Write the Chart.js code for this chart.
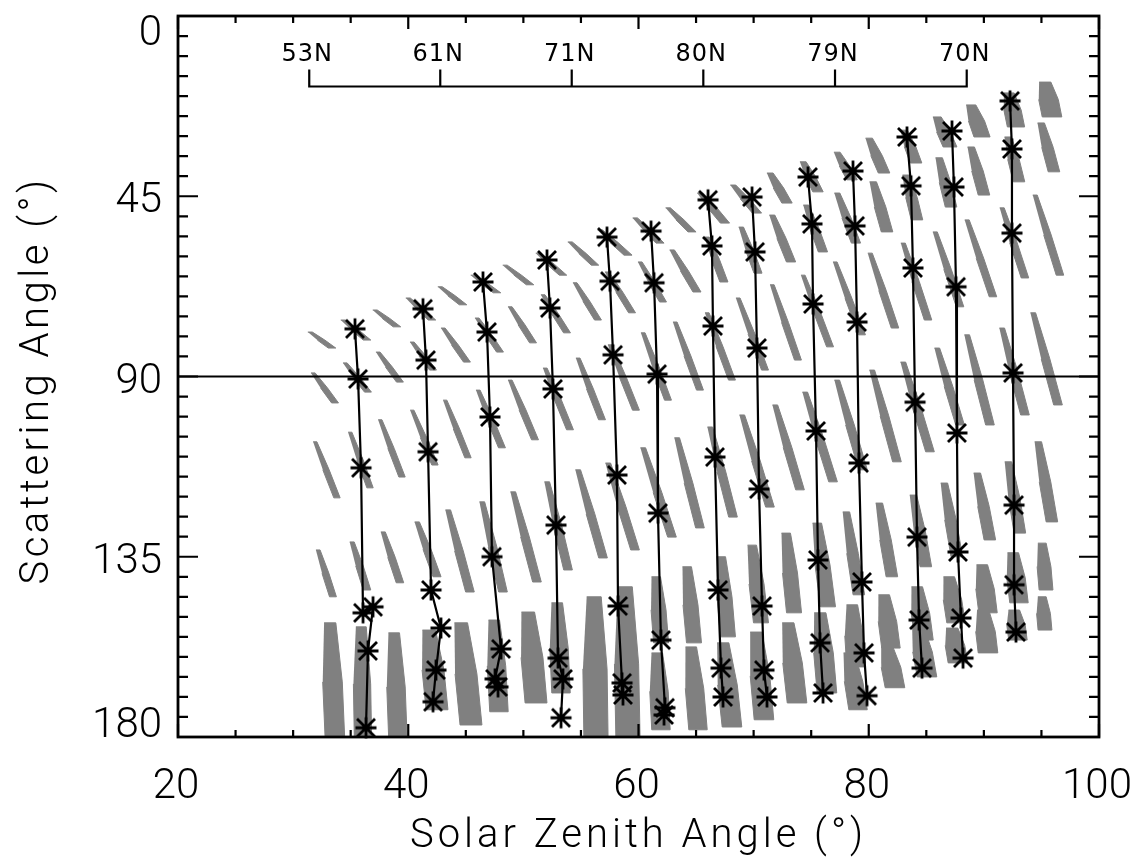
<!DOCTYPE html>
<html>
<head>
<meta charset="utf-8">
<script src="https://cdn.jsdelivr.net/npm/chart.js"></script>
<style>
  html, body { margin: 0; padding: 0; background: #fff; }
</style>
</head>
<body>
<canvas id="chart" width="1141" height="865"></canvas>
<script>
// axes
var xTicks = [20, 40, 60, 80, 100];
var yTicks = [0, 45, 90, 135, 180];
var refLine = [90];

// latitude scale on top
var latSza = [31.40, 42.78, 54.20, 65.63, 77.07, 88.51];
var latLabels = ['53N', '61N', '71N', '80N', '79N', '70N'];

// black tracks (solar zenith angle, scattering angle)
var trackSza = [
  [35.37, 35.64, 35.90, 36.07, 36.94, 36.50, 36.33],
  [41.28, 41.54, 41.72, 41.98, 42.84, 42.41, 42.15],
  [46.49, 46.84, 47.10, 47.27, 48.06, 47.54, 47.80],
  [52.05, 52.31, 52.57, 52.83, 53.01, 53.44, 53.27],
  [57.26, 57.52, 57.79, 58.13, 58.22, 58.57, 58.65],
  [61.09, 61.35, 61.61, 61.69, 61.95, 62.30, 62.22],
  [66.04, 66.38, 66.47, 66.64, 66.91, 67.17, 67.34],
  [69.86, 70.12, 70.29, 70.47, 70.73, 70.90, 71.16],
  [74.72, 75.07, 75.16, 75.42, 75.59, 75.77, 76.03],
  [78.63, 78.81, 78.98, 79.15, 79.41, 79.59, 79.85],
  [83.32, 83.67, 83.84, 84.02, 84.19, 84.37, 84.63],
  [87.23, 87.40, 87.58, 87.66, 87.75, 88.01, 88.19],
  [92.27, 92.44, 92.44, 92.53, 92.62, 92.62, 92.79]
];
var trackSca = [
  [78.1, 90.6, 112.8, 149.0, 147.5, 158.5, 177.7],
  [73.1, 85.9, 108.8, 143.3, 152.8, 163.3, 171.2],
  [66.4, 78.9, 100.1, 135.0, 158.0, 165.5, 167.5],
  [60.9, 72.9, 93.1, 127.1, 160.3, 165.5, 175.2],
  [55.2, 66.2, 84.6, 114.6, 147.3, 166.5, 169.5],
  [53.7, 66.6, 89.4, 124.1, 155.8, 172.7, 174.5],
  [45.9, 57.4, 77.4, 110.1, 143.3, 162.8, 170.0],
  [45.2, 58.9, 82.9, 118.1, 147.3, 163.3, 170.0],
  [40.2, 51.9, 71.9, 103.6, 135.8, 156.5, 169.0],
  [38.7, 52.4, 76.4, 111.6, 141.3, 159.0, 169.7],
  [30.2, 42.4, 62.9, 96.4, 130.1, 150.8, 162.8],
  [28.7, 42.7, 67.6, 104.1, 133.8, 150.3, 160.3],
  [21.2, 33.2, 54.2, 89.1, 122.1, 142.0, 153.8]
];

// grey swaths: [sza top, sca top, sza bottom, sca bottom, sza width]
var row0 = [
  [31.47, 78.9, 33.38, 82.9, 0.65], [34.33, 75.9, 36.42, 80.9, 0.65], [37.11, 73.4, 39.02, 77.6, 0.65],
  [39.98, 70.4, 42.06, 75.9, 0.65], [42.76, 67.6, 44.76, 72.1, 0.65], [45.62, 64.7, 47.71, 69.1, 0.65],
  [48.40, 62.2, 50.58, 67.1, 0.65], [51.27, 59.2, 53.44, 64.7, 0.65], [54.05, 56.4, 56.22, 62.2, 0.65],
  [56.66, 53.4, 59.09, 59.7, 0.7], [59.70, 50.4, 61.87, 56.7, 0.7], [62.56, 47.9, 64.65, 53.9, 0.7],
  [65.34, 44.2, 67.51, 51.7, 0.8], [68.21, 42.2, 70.29, 49.2, 0.8], [71.42, 39.2, 72.90, 46.7, 0.9],
  [74.29, 36.4, 75.59, 43.9, 0.9], [77.24, 34.0, 78.55, 40.9, 0.9], [80.02, 30.5, 81.33, 39.2, 1.0],
  [83.06, 28.5, 84.11, 36.7, 1.0], [85.93, 25.2, 87.06, 32.7, 1.2], [88.88, 22.2, 89.84, 30.2, 1.4],
  [92.18, 19.2, 92.79, 27.7, 1.5], [95.31, 16.5, 95.92, 25.2, 1.7]
];
var row1 = [
  [31.73, 89.1, 33.64, 96.6, 0.6], [34.51, 86.6, 36.50, 93.9, 0.6], [37.37, 83.9, 39.28, 91.4, 0.6],
  [40.33, 81.4, 42.15, 88.4, 0.6], [43.02, 77.9, 45.10, 86.4, 0.6], [45.97, 75.4, 47.97, 83.9, 0.6],
  [48.84, 72.6, 50.84, 81.6, 0.6], [51.70, 69.6, 53.79, 79.1, 0.6], [54.48, 66.6, 56.48, 75.9, 0.6],
  [57.26, 63.9, 59.44, 74.1, 0.6], [60.13, 61.4, 62.13, 71.4, 0.6], [62.91, 58.4, 65.08, 68.9, 0.7],
  [65.95, 55.2, 67.42, 66.4, 0.7], [68.91, 52.7, 70.38, 64.2, 0.7], [71.60, 49.7, 73.25, 61.4, 0.8],
  [74.55, 47.2, 76.02, 58.9, 0.8], [77.25, 44.2, 78.89, 56.7, 0.8], [80.37, 41.4, 81.59, 53.9, 1.0],
  [83.23, 39.7, 84.19, 50.9, 1.0], [86.10, 35.4, 87.15, 47.7, 1.0], [88.88, 32.7, 90.01, 44.7, 1.0],
  [92.09, 30.2, 93.05, 41.4, 1.0], [94.96, 26.7, 96.09, 38.9, 1.0]
];
var row2 = [
  [31.90, 106.3, 33.81, 120.3, 0.55], [34.94, 103.9, 36.68, 117.8, 0.55], [37.55, 100.8, 39.46, 115.1, 0.55],
  [40.33, 98.4, 42.32, 112.1, 0.55], [43.19, 95.9, 45.19, 110.3, 0.55], [46.06, 93.4, 48.14, 107.8, 0.6],
  [48.84, 90.9, 51.01, 105.8, 0.6], [51.88, 87.9, 54.05, 103.3, 0.6], [54.74, 85.4, 56.83, 100.8, 0.6],
  [57.52, 82.1, 59.78, 98.4, 0.6], [60.39, 79.1, 62.56, 95.9, 0.6], [63.17, 76.4, 65.34, 93.4, 0.6],
  [65.95, 74.1, 68.12, 90.9, 0.6], [68.64, 70.4, 70.99, 88.4, 0.6], [71.60, 67.1, 73.85, 85.9, 0.6],
  [74.29, 64.7, 76.64, 82.6, 0.6], [77.07, 61.4, 79.41, 79.6, 0.6], [80.11, 59.2, 82.28, 77.9, 0.65],
  [82.98, 56.7, 85.15, 75.9, 0.65], [85.76, 53.9, 87.93, 72.6, 0.65], [88.53, 50.9, 90.79, 70.1, 0.65],
  [91.57, 47.9, 93.57, 65.4, 0.65], [94.44, 44.7, 96.61, 64.7, 0.65]
];
var row3 = [
  [32.16, 133.3, 33.46, 145.0, 0.6], [35.11, 131.3, 36.42, 143.3, 0.65], [37.81, 128.8, 39.28, 141.5, 0.65],
  [40.76, 126.3, 42.50, 140.0, 0.7], [43.45, 123.3, 45.36, 143.8, 0.75], [46.41, 121.3, 48.23, 143.8, 0.75],
  [49.10, 118.8, 51.18, 141.3, 0.75], [52.05, 116.3, 53.88, 138.3, 0.75], [54.74, 113.3, 56.92, 135.3, 0.75],
  [57.35, 111.6, 59.70, 133.3, 0.75], [60.39, 107.8, 62.91, 130.1, 0.75], [63.34, 105.3, 65.34, 127.8, 0.75],
  [66.21, 102.6, 68.21, 125.1, 0.75], [68.99, 99.6, 71.42, 122.6, 0.75], [71.86, 97.1, 74.03, 118.3, 0.75],
  [74.46, 93.9, 76.90, 116.3, 0.75], [77.24, 90.9, 79.50, 113.3, 0.75], [80.28, 88.4, 82.45, 111.3, 0.75],
  [82.98, 86.4, 85.32, 108.8, 0.75], [85.93, 82.9, 87.93, 102.1, 0.75], [88.53, 79.6, 90.53, 102.1, 0.75],
  [91.57, 77.9, 93.57, 99.6, 0.75], [94.27, 74.1, 96.44, 97.1, 0.75]
];
var row4 = [
  [33.20, 151.5, 33.64, 181, 1.7], [35.90, 152.5, 36.07, 181, 1.5], [38.76, 154.0, 39.11, 181, 1.6],
  [41.80, 153.3, 42.50, 173.2, 1.9], [44.58, 151.5, 45.45, 177.0, 1.9], [47.45, 150.8, 47.88, 173.7, 1.6],
  [50.40, 148.8, 51.10, 171.5, 1.9], [52.92, 146.5, 53.27, 169.0, 1.6], [56.13, 145.0, 56.31, 181, 2.1],
  [58.83, 142.5, 59.09, 181, 2.1], [61.52, 140.0, 61.96, 156.5, 1.3], [64.21, 137.5, 64.82, 156.5, 1.3],
  [67.17, 135.0, 67.77, 155.0, 1.3], [69.86, 132.1, 70.64, 151.5, 1.3], [72.81, 129.1, 73.51, 149.0, 1.3],
  [75.51, 126.6, 76.46, 147.5, 1.3], [78.04, 123.8, 79.14, 144.5, 1.0], [80.90, 121.6, 82.01, 140.0, 1.0],
  [83.86, 119.6, 84.96, 137.5, 1.0], [86.55, 116.6, 87.65, 135.0, 1.0], [89.41, 114.1, 90.52, 130.8, 1.0],
  [92.11, 111.3, 93.13, 129.1, 1.0], [94.71, 106.3, 95.91, 126.3, 1.0]
];
var row5 = [
  [61.61, 159.0, 61.95, 178.2, 1.6], [64.56, 157.5, 65.17, 178.2, 1.6], [67.34, 156.5, 68.12, 177.5, 1.7],
  [70.21, 153.8, 70.90, 175.7, 1.7], [72.99, 151.5, 73.77, 171.5, 1.7], [75.77, 149.0, 76.37, 169.0, 1.7],
  [78.55, 147.0, 78.89, 162.5, 1.6], [81.32, 144.5, 81.93, 157.8, 1.6], [84.19, 142.5, 84.80, 155.8, 1.6],
  [86.97, 140.0, 87.58, 151.5, 1.6], [89.84, 137.0, 90.36, 149.0, 1.6], [92.53, 134.0, 93.05, 146.5, 1.6],
  [95.05, 131.6, 95.40, 143.3, 1.2]
];
var row6 = [
  [78.29, 159.0, 79.07, 173.2, 1.6], [81.59, 157.5, 82.28, 167.7, 1.7], [84.28, 152.5, 85.06, 165.0, 1.7],
  [87.23, 152.8, 87.75, 161.5, 1.7], [89.92, 148.3, 90.36, 159.0, 1.7], [92.62, 148.3, 92.96, 155.8, 1.6],
  [95.05, 145.0, 95.31, 153.3, 1.2]
];

var GRAY = '#808080';

// asterisk marker (IDL psym=2 look)
var star = document.createElement('canvas');
star.width = 26; star.height = 26;
(function () {
  var c = star.getContext('2d');
  c.strokeStyle = '#000';
  c.lineWidth = 2.8;
  c.beginPath();
  c.moveTo(2.5, 13); c.lineTo(23.5, 13);
  c.moveTo(13, 2.5); c.lineTo(13, 23.5);
  c.moveTo(4, 4); c.lineTo(22, 22);
  c.moveTo(22, 4); c.lineTo(4, 22);
  c.stroke();
})();

var datasets = [];

for (var t = 0; t < trackSza.length; t++) {
  var pts = [];
  for (var k = 0; k < trackSza[t].length; k++) {
    pts.push({x: trackSza[t][k], y: trackSca[t][k]});
  }
  datasets.push({
    data: pts,
    borderColor: '#000',
    borderWidth: 2.2,
    pointStyle: star,
    pointRadius: 10,
    fill: false,
    clip: false,
    order: 1
  });
}

datasets.push({
  data: [{x: xTicks[0], y: refLine[0]}, {x: xTicks[xTicks.length - 1], y: refLine[0]}],
  borderColor: '#000',
  borderWidth: 2.2,
  pointRadius: 0,
  fill: false,
  order: 2
});

// each swath is a slanted quad, a bit narrower at its upper end
[row0, row1, row2, row3, row4, row5, row6].forEach(function (row) {
  row.forEach(function (s) {
    var top = s[4] * 0.3, bot = s[4] / 2;
    var mx = (s[0] + s[2]) / 2, my = (s[1] + s[3]) / 2, mid = s[4] / 2;
    datasets.push({
      data: [
        {x: s[0] - top, y: s[1]}, {x: s[0] + top, y: s[1]},
        {x: mx + mid, y: my},
        {x: s[2] + bot, y: s[3]}, {x: s[2] - bot, y: s[3]},
        {x: mx - mid, y: my}
      ],
      borderColor: GRAY,
      backgroundColor: GRAY,
      borderWidth: 1,
      pointRadius: 0,
      fill: 'shape',
      order: 3
    });
  });
});

// latitude bracket drawn above the data
var latPlugin = {
  id: 'latPlugin',
  afterDatasetsDraw: function (chart) {
    var ctx = chart.ctx, x = chart.scales.x, y = chart.scales.y;
    var base = y.getPixelForValue(17.6);
    ctx.save();
    ctx.strokeStyle = '#000';
    ctx.lineWidth = 2.2;
    ctx.beginPath();
    ctx.moveTo(x.getPixelForValue(latSza[0]), base);
    ctx.lineTo(x.getPixelForValue(latSza[latSza.length - 1]), base);
    latSza.forEach(function (v) {
      var px = x.getPixelForValue(v);
      ctx.moveTo(px, base + 1);
      ctx.lineTo(px, base - 17);
    });
    ctx.stroke();
    ctx.fillStyle = '#000';
    ctx.font = '24px "DejaVu Sans"';
    ctx.letterSpacing = '1px';
    ctx.textAlign = 'center';
    latSza.forEach(function (v, i) {
      ctx.fillText(latLabels[i], x.getPixelForValue(v) - 2, base - 25);
    });
    ctx.restore();
  }
};

// frame, inward ticks, labels
var axesPlugin = {
  id: 'axesPlugin',
  afterDraw: function (chart) {
    var ctx = chart.ctx, a = chart.chartArea, x = chart.scales.x, y = chart.scales.y;
    ctx.save();
    ctx.strokeStyle = '#000';
    ctx.lineWidth = 2.2;
    ctx.beginPath();
    for (var v = xTicks[0]; v <= xTicks[xTicks.length - 1]; v += 5) {
      var px = x.getPixelForValue(v);
      var len = xTicks.indexOf(v) >= 0 ? 13 : 7;
      ctx.moveTo(px, a.bottom); ctx.lineTo(px, a.bottom - len);
      ctx.moveTo(px, a.top); ctx.lineTo(px, a.top + len);
    }
    for (var w = yTicks[0]; w <= yTicks[yTicks.length - 1]; w += 5) {
      var py = y.getPixelForValue(w);
      var len2 = yTicks.indexOf(w) >= 0 ? 20 : 10;
      ctx.moveTo(a.left, py); ctx.lineTo(a.left + len2, py);
      ctx.moveTo(a.right, py); ctx.lineTo(a.right - len2, py);
    }
    ctx.stroke();
    ctx.lineWidth = 2.8;
    ctx.strokeRect(a.left, a.top, a.right - a.left, a.bottom - a.top);

    ctx.fillStyle = '#000';
    ctx.font = '300 42px Roboto';
    ctx.textBaseline = 'alphabetic';
    ctx.textAlign = 'center';
    xTicks.forEach(function (v) {
      ctx.fillText(String(v), x.getPixelForValue(v) - 2, a.bottom + 61);
    });
    ctx.textAlign = 'right';
    yTicks.forEach(function (v) {
      var py = Math.min(Math.max(y.getPixelForValue(v) + 16, a.top + 29), a.bottom);
      ctx.fillText(String(v), a.left - 16, py);
    });

    ctx.font = '300 40px Roboto';
    ctx.letterSpacing = '4px';
    ctx.textAlign = 'center';
    ctx.fillText('Solar Zenith Angle (°)', (a.left + a.right) / 2, a.bottom + 110);
    ctx.letterSpacing = '3.5px';
    ctx.translate(48, (a.top + a.bottom) / 2 + 4);
    ctx.rotate(-Math.PI / 2);
    ctx.fillText('Scattering Angle (°)', 0, 0);
    ctx.restore();
  }
};

var chart = new Chart(document.getElementById('chart'), {
  type: 'line',
  data: {datasets: datasets},
  options: {
    responsive: false,
    animation: false,
    devicePixelRatio: 1,
    events: [],
    layout: {padding: {left: 178, right: 42, top: 16, bottom: 128}},
    plugins: {legend: {display: false}, tooltip: {enabled: false}},
    elements: {line: {tension: 0}},
    scales: {
      x: {type: 'linear', min: 20, max: 100, display: false},
      y: {type: 'linear', min: 0, max: 180, reverse: true, display: false}
    }
  },
  plugins: [latPlugin, axesPlugin]
});
</script>
</body>
</html>
